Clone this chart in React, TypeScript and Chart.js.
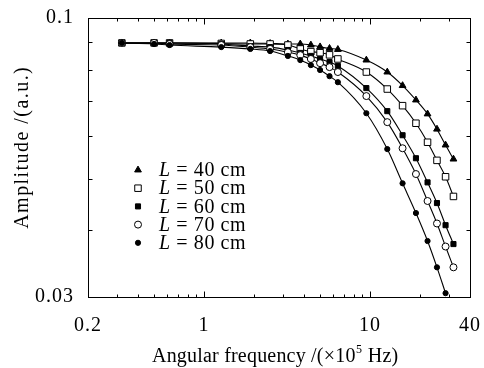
import React, { useEffect, useRef } from "react";
import { Chart, registerables } from "chart.js";

Chart.register(...registerables);

// Angular frequency (x10^5 Hz) of the measured points
const frequencies = [0.32, 0.5, 0.62, 1.27, 1.9, 2.5, 3.2, 3.8, 4.4, 5.0, 5.7, 6.4, 9.5, 12.7, 15.7, 18.9, 22.2, 25.3, 28.5, 31.8];

// Amplitude (a.u.) per cable length
const amp40 = [0.0898, 0.0898, 0.0898, 0.0898, 0.0898, 0.0896, 0.0894, 0.0894, 0.089, 0.0883, 0.0877, 0.0873, 0.0834, 0.0792, 0.0747, 0.0702, 0.0661, 0.0619, 0.0578, 0.0544];
const amp50 = [0.0898, 0.0898, 0.0898, 0.0896, 0.0894, 0.0894, 0.089, 0.0875, 0.0865, 0.0861, 0.0853, 0.0838, 0.0792, 0.0736, 0.0685, 0.0635, 0.0585, 0.0541, 0.0504, 0.0463];
const amp60 = [0.0898, 0.0898, 0.0898, 0.0894, 0.0886, 0.0882, 0.0871, 0.086, 0.0849, 0.0838, 0.0827, 0.0813, 0.0739, 0.0669, 0.0603, 0.0546, 0.0492, 0.045, 0.0409, 0.0377];
const amp70 = [0.0898, 0.0898, 0.0894, 0.089, 0.0882, 0.0875, 0.0863, 0.0852, 0.0838, 0.0823, 0.0809, 0.0792, 0.0714, 0.0638, 0.057, 0.051, 0.0454, 0.0412, 0.0373, 0.0341];
const amp80 = [0.0898, 0.0894, 0.089, 0.0882, 0.0875, 0.0867, 0.0849, 0.0834, 0.0816, 0.0799, 0.0778, 0.0758, 0.0663, 0.0568, 0.049, 0.0431, 0.0382, 0.0341, 0.0305];

const seriesLengths = ["40", "50", "60", "70", "80"];
const seriesValues = [amp40, amp50, amp60, amp70, amp80];

const xTicks = [0.2, 1, 10, 40];
const xTickLabels = ["0.2", "1", "10", "40"];
const xMajorInner = [1, 10];
const xMinorTicks = [0.3, 0.4, 0.5, 0.6, 0.7, 0.8, 0.9, 2, 3, 4, 5, 6, 7, 8, 9, 20, 30];
const yTicks = [0.03, 0.1];
const yTickLabels = ["0.03", "0.1"];
const yMinorTicks = [0.04, 0.05, 0.06, 0.07, 0.08, 0.09];

const xTitleMain = "Angular frequency /(×10";
const xTitleSup = "5";
const xTitleEnd = " Hz)";
const yTitle = "Amplitude /(a.u.)";

const FONT = "'Liberation Serif', 'Times New Roman', serif";
const TICK_SPACING = "1px";

type Marker = { style: string; radius: number; fill: string };
const markers: Marker[] = [
  { style: "triangle", radius: 3.9, fill: "#000" },
  { style: "rect", radius: 4.6, fill: "#fff" },
  { style: "rect", radius: 3.6, fill: "#000" },
  { style: "circle", radius: 3.5, fill: "#fff" },
  { style: "circle", radius: 2.6, fill: "#000" },
];

function drawMarker(ctx: CanvasRenderingContext2D, m: Marker, x: number, y: number) {
  ctx.beginPath();
  if (m.style === "triangle") {
    const r = m.radius;
    ctx.moveTo(x, y - r);
    ctx.lineTo(x + r * 0.866, y + r * 0.5);
    ctx.lineTo(x - r * 0.866, y + r * 0.5);
    ctx.closePath();
  } else if (m.style === "rect") {
    const s = m.radius * Math.SQRT1_2;
    ctx.rect(x - s, y - s, 2 * s, 2 * s);
  } else {
    ctx.arc(x, y, m.radius, 0, Math.PI * 2);
  }
  ctx.fillStyle = m.fill;
  ctx.fill();
  ctx.strokeStyle = "#000";
  ctx.lineWidth = 1;
  ctx.stroke();
}

function spacingToFit(ctx: CanvasRenderingContext2D, text: string, target: number) {
  (ctx as any).letterSpacing = "0px";
  const w = ctx.measureText(text).width;
  return Math.max(0, (target - w) / text.length);
}

const framePlugin = {
  id: "framePlugin",
  beforeDraw(chart: any) {
    (chart.ctx as any).letterSpacing = TICK_SPACING;
  },
  afterDraw(chart: any) {
    const ctx: CanvasRenderingContext2D = chart.ctx;
    const a = chart.chartArea;
    const xs = chart.scales.x;
    const ys = chart.scales.y;
    ctx.save();
    (ctx as any).letterSpacing = "0px";
    ctx.strokeStyle = "#000";
    ctx.lineWidth = 1;
    const L = Math.round(a.left) + 0.5;
    const R = Math.round(a.right) + 0.5;
    const T = Math.round(a.top) + 0.5;
    const B = Math.round(a.bottom) + 0.5;
    ctx.strokeRect(L, T, R - L, B - T);
    ctx.beginPath();
    const xTick = (v: number, len: number) => {
      const px = Math.round(xs.getPixelForValue(v)) + 0.5;
      ctx.moveTo(px, B);
      ctx.lineTo(px, B - len);
      ctx.moveTo(px, T);
      ctx.lineTo(px, T + len);
    };
    const yTick = (v: number, len: number) => {
      const py = Math.round(ys.getPixelForValue(v)) + 0.5;
      ctx.moveTo(L, py);
      ctx.lineTo(L + len, py);
      ctx.moveTo(R, py);
      ctx.lineTo(R - len, py);
    };
    xMinorTicks.forEach((v) => xTick(v, 3));
    xMajorInner.forEach((v) => xTick(v, 6));
    yMinorTicks.forEach((v) => yTick(v, 4));
    ctx.stroke();

    // x axis title
    ctx.fillStyle = "#000";
    ctx.textBaseline = "alphabetic";
    ctx.textAlign = "left";
    const mainFont = `20px ${FONT}`;
    const supFont = `12px ${FONT}`;
    const xTitleLeft = 152;
    const base = 362;
    ctx.font = mainFont;
    (ctx as any).letterSpacing = "0.2px";
    ctx.fillText(xTitleMain, xTitleLeft, base);
    const w1 = ctx.measureText(xTitleMain).width;
    ctx.font = supFont;
    (ctx as any).letterSpacing = "0px";
    ctx.fillText(xTitleSup, xTitleLeft + w1 + 0.5, base - 9);
    const w2 = ctx.measureText(xTitleSup).width;
    ctx.font = mainFont;
    (ctx as any).letterSpacing = "0.2px";
    ctx.fillText(xTitleEnd, xTitleLeft + w1 + w2 + 1, base);

    // y axis title
    ctx.save();
    ctx.translate(23, 148);
    ctx.rotate(-Math.PI / 2);
    ctx.textAlign = "center";
    ctx.textBaseline = "middle";
    ctx.font = mainFont;
    const spy = spacingToFit(ctx, yTitle, 163);
    (ctx as any).letterSpacing = `${spy}px`;
    ctx.fillText(yTitle, spy / 2, 0);
    ctx.restore();

    // legend
    (ctx as any).letterSpacing = "0.6px";
    const legendTop = 170;
    const legendStep = 18.2;
    const markerX = 138;
    const textX = 159;
    seriesLengths.forEach((len, i) => {
      const y = legendTop + i * legendStep;
      drawMarker(ctx, markers[i], markerX, y);
      ctx.fillStyle = "#000";
      ctx.textAlign = "left";
      ctx.textBaseline = "middle";
      ctx.font = `italic 20px ${FONT}`;
      ctx.fillText("L", textX, y + 1);
      const wl = ctx.measureText("L").width;
      ctx.font = mainFont;
      ctx.fillText(` = ${len} cm`, textX + wl, y + 1);
    });
    ctx.restore();
    (ctx as any).letterSpacing = "0px";
  },
};

export default function App() {
  const canvasRef = useRef<HTMLCanvasElement | null>(null);

  useEffect(() => {
    if (!canvasRef.current) return;
    const datasets = seriesValues.map((vals, i) => ({
      label: `L = ${seriesLengths[i]} cm`,
      data: vals.map((v, j) => ({ x: frequencies[j], y: v })),
      borderColor: "#000",
      borderWidth: 1.1,
      backgroundColor: markers[i].fill,
      pointStyle: markers[i].style,
      pointRadius: markers[i].radius,
      pointBorderColor: "#000",
      pointBackgroundColor: markers[i].fill,
      pointBorderWidth: 1,
      cubicInterpolationMode: "monotone" as const,
      fill: false,
      order: 4 - i,
    }));

    const chart = new Chart(canvasRef.current, {
      type: "line",
      data: { datasets },
      options: {
        animation: false,
        responsive: true,
        maintainAspectRatio: false,
        events: [],
        layout: { padding: { top: 18, right: 14, left: 0, bottom: 0 } },
        plugins: { legend: { display: false }, tooltip: { enabled: false } },
        scales: {
          x: {
            type: "logarithmic",
            min: 0.2,
            max: 40,
            grid: { display: false },
            border: { display: false },
            afterBuildTicks: (s: any) => {
              s.ticks = xTicks.map((value) => ({ value }));
            },
            afterFit: (s: any) => {
              s.height = 71;
              s.paddingLeft = 0;
              s.paddingRight = 0;
            },
            ticks: {
              autoSkip: false,
              maxRotation: 0,
              padding: 9,
              color: "#000",
              font: { family: FONT, size: 20 },
              callback: (value: any) => {
                const k = xTicks.indexOf(Number(value));
                return k >= 0 ? xTickLabels[k] : "";
              },
            },
          },
          y: {
            type: "logarithmic",
            min: 0.03,
            max: 0.1,
            grid: { display: false },
            border: { display: false },
            afterBuildTicks: (s: any) => {
              s.ticks = yTicks.map((value) => ({ value }));
            },
            afterFit: (s: any) => {
              s.width = 88;
              s.paddingTop = 0;
              s.paddingBottom = 0;
            },
            ticks: {
              autoSkip: false,
              padding: 6,
              color: "#000",
              font: { family: FONT, size: 20 },
              callback: (value: any) => {
                const k = yTicks.indexOf(Number(value));
                return k >= 0 ? yTickLabels[k] : "";
              },
            },
          },
        },
      },
      plugins: [framePlugin],
    });
    return () => chart.destroy();
  }, []);

  return (
    <div style={{ position: "fixed", left: 0, top: 0, width: 484, height: 368, background: "#fff" }}>
      <canvas ref={canvasRef} />
    </div>
  );
}
